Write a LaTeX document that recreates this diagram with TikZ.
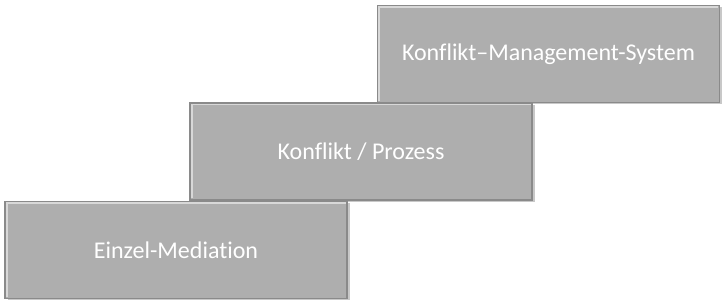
\documentclass[tikz,border=0pt]{standalone}
\usepackage{fontspec}
\setmainfont{Carlito}[Ligatures=NoCommon]
\definecolor{boxgray}{HTML}{AEAEAE}
\definecolor{boxdark}{HTML}{8A8A8A}
\definecolor{boxlight}{HTML}{D8D8D8}
\definecolor{shadowgray}{HTML}{C8C8C8}
\begin{document}
\begin{tikzpicture}[x=1pt,y=-1pt,
  stepbox/.style={draw=boxdark,line width=1.2pt,fill=boxgray,minimum width=342pt,minimum height=97pt,
    inner sep=0pt,text=white,font=\fontsize{24}{28}\selectfont,
    path picture={\draw[boxlight,line width=2pt]
      ([xshift=1.5pt,yshift=1.5pt]path picture bounding box.south west) --
      ([xshift=1.5pt,yshift=-1.5pt]path picture bounding box.north west) --
      ([xshift=-1.5pt,yshift=-1.5pt]path picture bounding box.north east);}},
  shadowbox/.style={fill=shadowgray,minimum width=342pt,minimum height=97pt,inner sep=0pt}]
\useasboundingbox (0,0) rectangle (724,307);
% shadows
\node[shadowbox] (s3) at (550.5,56) {};
\node[shadowbox] (s2) at (363.5,154) {};
\node[shadowbox] (s1) at (178.5,252) {};
% boxes
\node[stepbox] (b3) at (548.5,54) {Konflikt–Management-System};
\node[stepbox] (b2) at (361,151.5) {Konflikt / Prozess};
\node[stepbox] (b1) at (176,250) {Einzel-Mediation};
\end{tikzpicture}
\end{document}
